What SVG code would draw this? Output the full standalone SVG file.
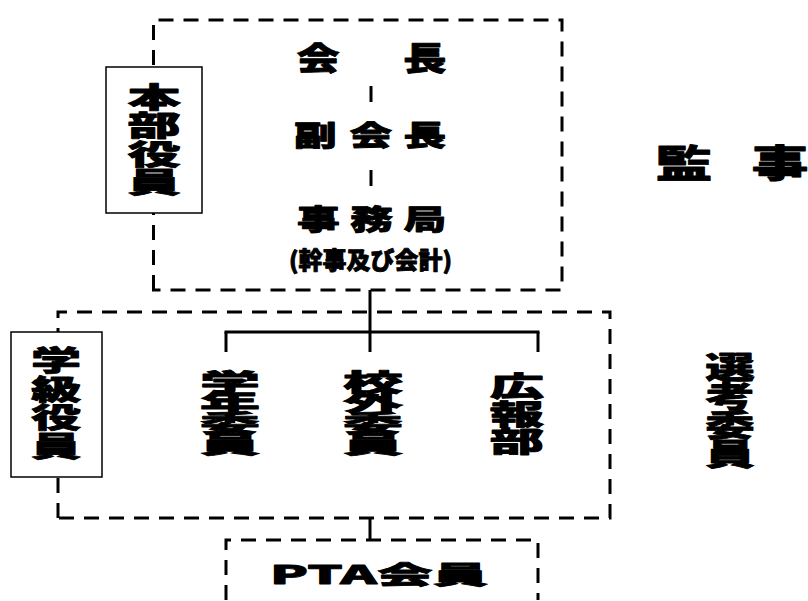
<svg xmlns="http://www.w3.org/2000/svg" width="808" height="601" viewBox="0 0 808 601">
<style>
.t{font-family:"Noto Sans CJK JP","Noto Sans CJK SC",sans-serif;font-weight:900;fill:#000;stroke:#000;stroke-width:0.8;stroke-linejoin:round}
.dash{fill:none;stroke:#000;stroke-width:3;stroke-dasharray:15 10}
.box{fill:#fff;stroke:#000;stroke-width:1.5}
.ln{stroke:#000;stroke-width:3;fill:none}
</style>
<rect width="808" height="601" fill="#fff"/>
<g id="honbu-frame"><path class="dash" d="M153.5,290 V20 H562 V290 Z"/></g>
<g id="gakkyu-frame"><path class="dash" d="M58,518 V312 H610 V518 Z"/></g>
<g id="pta-frame"><path class="dash" d="M226,600 V540 H538 V600"/></g>
<g id="connectors">
<line class="ln" x1="371" y1="86" x2="371" y2="102"/>
<line class="ln" x1="371" y1="170" x2="371" y2="186"/>
<line class="ln" x1="370" y1="290" x2="370" y2="352"/>
<line class="ln" x1="224.5" y1="332" x2="539.5" y2="332"/>
<line class="ln" x1="226" y1="332" x2="226" y2="352"/>
<line class="ln" x1="538" y1="332" x2="538" y2="352"/>
<line class="ln" x1="370" y1="518" x2="370" y2="540"/>
</g>
<g id="honbu-label">
<rect class="box" x="106" y="67" width="96" height="146"/>
<g transform="translate(154 0) scale(1.9 1)"><text class="t" font-size="28" text-anchor="middle" x="0 0 0 0" y="108 136.5 165 193.5">本部役員</text></g>
</g>
<g id="kaicho"><g transform="scale(1.35 1)"><text class="t" font-size="32" text-anchor="middle" x="235.6 275.2 314.8" y="70">会　長</text></g></g>
<g id="fukukaicho"><g transform="scale(1.5 1)"><text class="t" font-size="28.5" text-anchor="middle" x="210.3 247.3 283.3" y="146">副会長</text></g></g>
<g id="jimukyoku">
<g transform="scale(1.5 1)"><text class="t" font-size="28.5" text-anchor="middle" x="212.3 247.7 283.3" y="230">事務局</text></g>
<text class="t" font-size="23.5" x="289" y="268.5" textLength="163" lengthAdjust="spacingAndGlyphs">(幹事及び会計)</text>
</g>
<g id="gakkyu-label">
<rect class="box" x="11" y="332" width="91" height="145"/>
<g transform="translate(56 0) scale(1.79 1)"><text class="t" font-size="28" text-anchor="middle" x="0 0 0 0" y="371.5 400 428.5 457">学級役員</text></g>
</g>
<g id="gakunen"><g transform="translate(230 0) scale(2.5 1)"><text class="t" font-size="24" text-anchor="middle" x="0 0 0 0" y="391 411.5 432 453">学年委員</text></g></g>
<g id="kogai"><g transform="translate(373 0) scale(2.5 1)"><text class="t" font-size="24" text-anchor="middle" x="0 0 0 0" y="391 411.5 432 453">校外委員</text></g></g>
<g id="koho"><g transform="translate(517 0) scale(1.94 1)"><text class="t" font-size="28" text-anchor="middle" x="0 0 0" y="396.6 424.6 452">広報部</text></g></g>
<g id="kanji"><g transform="scale(1.49 1)"><text class="t" font-size="38" text-anchor="middle" x="459.1 491.3 523.5" y="177.4">監　事</text></g></g>
<g id="senko"><g transform="translate(730 0) scale(1.65 1)"><text class="t" font-size="30" text-anchor="middle" x="0 0 0 0" y="378.4 407.4 436.4 465.4">選考委員</text></g></g>
<g id="pta"><text class="t" font-size="25" x="270" y="584" textLength="218" lengthAdjust="spacingAndGlyphs">PTA会員</text></g>
</svg>
